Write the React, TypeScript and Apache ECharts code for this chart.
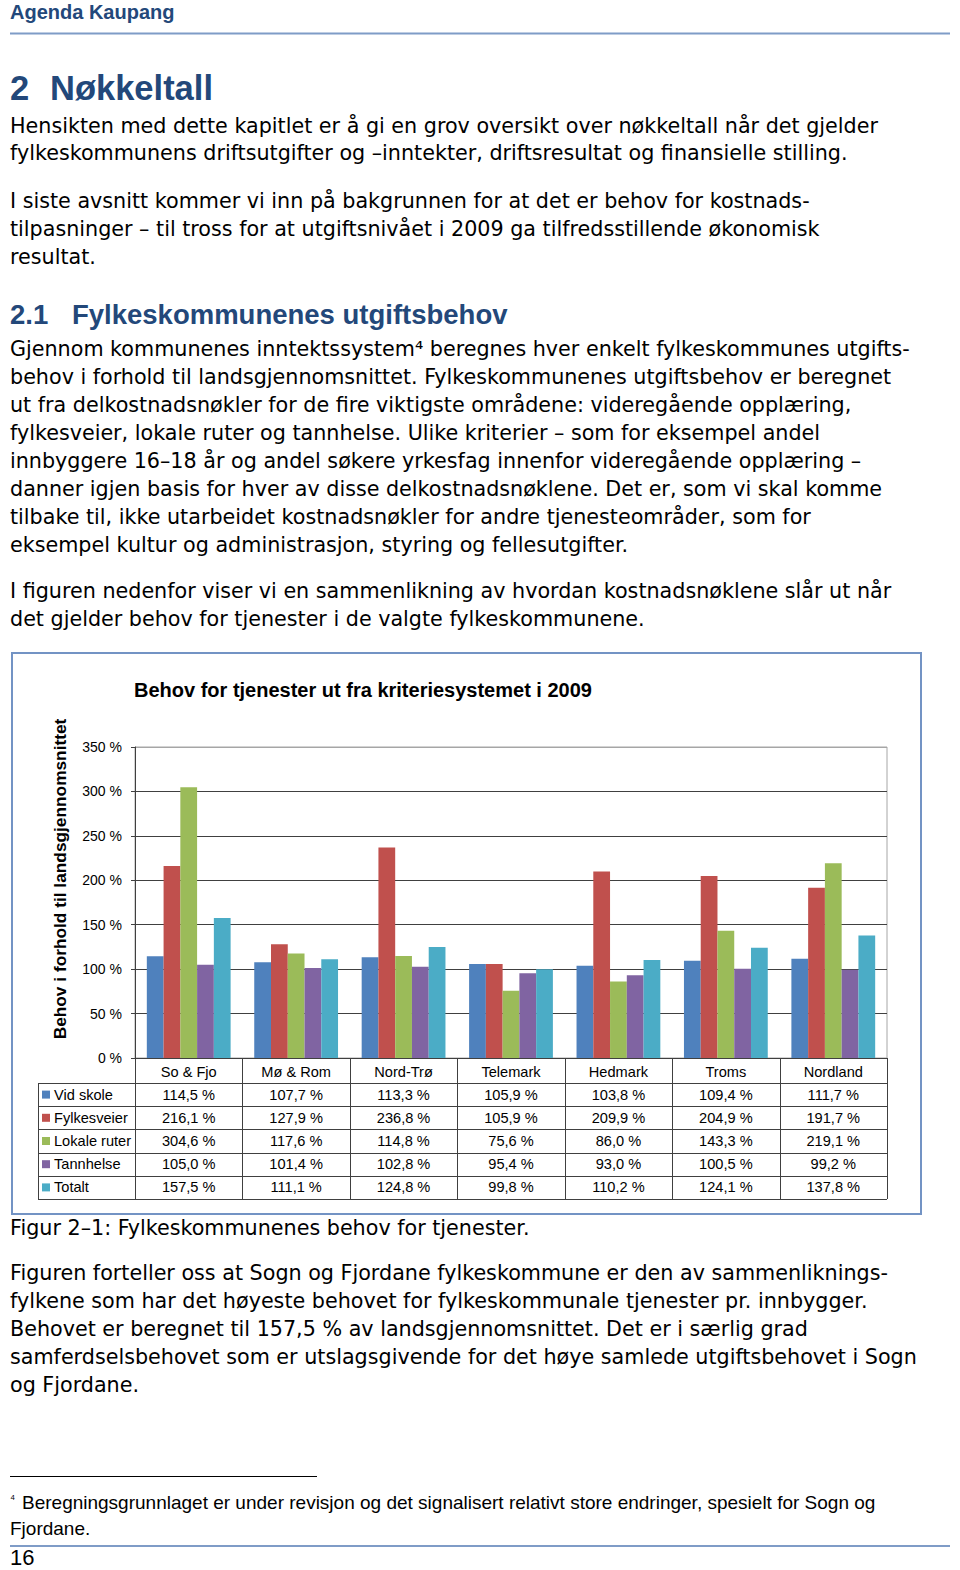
import React, { useEffect, useRef } from "react";
import * as echarts from "echarts";

const categories = ["So & Fjo", "Mø & Rom", "Nord-Trø", "Telemark", "Hedmark", "Troms", "Nordland"];
const seriesNames = ["Vid skole", "Fylkesveier", "Lokale ruter", "Tannhelse", "Totalt"];
const vidSkole = [114.5, 107.7, 113.3, 105.9, 103.8, 109.4, 111.7];
const fylkesveier = [216.1, 127.9, 236.8, 105.9, 209.9, 204.9, 191.7];
const lokaleRuter = [304.6, 117.6, 114.8, 75.6, 86.0, 143.3, 219.1];
const tannhelse = [105.0, 101.4, 102.8, 95.4, 93.0, 100.5, 99.2];
const totalt = [157.5, 111.1, 124.8, 99.8, 110.2, 124.1, 137.8];
const seriesValues = [vidSkole, fylkesveier, lokaleRuter, tannhelse, totalt];
const colors = ["#4F81BD", "#C0504D", "#9BBB59", "#8064A2", "#4BACC6"];
const yMin = 0;
const yMax = 350;
const yInterval = 50;

const chartTitle = "Behov for tjenester ut fra kriteriesystemet i 2009";
const yTitle = "Behov i forhold til landsgjennomsnittet";

const bodyLines: [string, number][] = [
  ["Hensikten med dette kapitlet er å gi en grov oversikt over nøkkeltall når det gjelder", 126],
  ["fylkeskommunens driftsutgifter og –inntekter, driftsresultat og finansielle stilling.", 153],
  ["I siste avsnitt kommer vi inn på bakgrunnen for at det er behov for kostnads-", 201],
  ["tilpasninger – til tross for at utgiftsnivået i 2009 ga tilfredsstillende økonomisk", 229],
  ["resultat.", 257],
  ["Gjennom kommunenes inntektssystem⁴ beregnes hver enkelt fylkeskommunes utgifts-", 349],
  ["behov i forhold til landsgjennomsnittet. Fylkeskommunenes utgiftsbehov er beregnet", 377],
  ["ut fra delkostnadsnøkler for de fire viktigste områdene: videregående opplæring,", 405],
  ["fylkesveier, lokale ruter og tannhelse. Ulike kriterier – som for eksempel andel", 433],
  ["innbyggere 16–18 år og andel søkere yrkesfag innenfor videregående opplæring –", 461],
  ["danner igjen basis for hver av disse delkostnadsnøklene. Det er, som vi skal komme", 489],
  ["tilbake til, ikke utarbeidet kostnadsnøkler for andre tjenesteområder, som for", 517],
  ["eksempel kultur og administrasjon, styring og fellesutgifter.", 545],
  ["I figuren nedenfor viser vi en sammenlikning av hvordan kostnadsnøklene slår ut når", 591],
  ["det gjelder behov for tjenester i de valgte fylkeskommunene.", 619],
  ["Figur 2–1: Fylkeskommunenes behov for tjenester.", 1228],
  ["Figuren forteller oss at Sogn og Fjordane fylkeskommune er den av sammenliknings-", 1273],
  ["fylkene som har det høyeste behovet for fylkeskommunale tjenester pr. innbygger.", 1301],
  ["Behovet er beregnet til 157,5 % av landsgjennomsnittet. Det er i særlig grad", 1329],
  ["samferdselsbehovet som er utslagsgivende for det høye samlede utgiftsbehovet i Sogn", 1357],
  ["og Fjordane.", 1385],
];

const footLines: [string, number, number][] = [
  ["⁴", 10, 1502],
  ["Beregningsgrunnlaget er under revisjon og det signalisert relativt store endringer, spesielt for Sogn og", 22, 1502],
  ["Fjordane.", 10, 1528],
];

const BLUE = "#23487A";
const BODY_FONT = "20.7px 'DejaVu Sans'";
const ARIAL = "'Liberation Sans', Arial";
const NARROW = "'Liberation Sans Narrow', 'Liberation Sans'";

const fmt = (v: number) => v.toFixed(1).replace(".", ",") + " %";

function txt(text: string, x: number, y: number, font: string, fill = "#000", align = "left", extra: any = {}) {
  return {
    type: "text",
    x,
    y,
    silent: true,
    ...extra,
    style: {
      text,
      font,
      fill,
      align,
      verticalAlign: "middle",
      textAlign: align,
      textVerticalAlign: "middle",
    },
  };
}

function line(x1: number, y1: number, x2: number, y2: number, stroke: string, lineWidth = 1) {
  return { type: "line", silent: true, shape: { x1, y1, x2, y2 }, style: { stroke, lineWidth } };
}

export default function App() {
  const ref = useRef<HTMLDivElement>(null);
  useEffect(() => {
    document.body.style.margin = "0";
    const chart = echarts.init(ref.current!, undefined, { renderer: "svg" });
    const splitColors = ["#404040", "#404040", "#404040", "#404040", "#404040", "#404040", "#404040", "#A6A6A6"];
    chart.setOption({
      animation: false,
      backgroundColor: "#fff",
      title: {
        text: chartTitle,
        left: 129,
        top: 675,
        textStyle: { fontFamily: ARIAL, fontSize: 20, fontWeight: "bold", color: "#000" },
      },
      grid: { left: 135, top: 747, width: 752, height: 311, show: true, borderColor: "#A6A6A6", borderWidth: 1 },
      xAxis: {
        type: "category",
        data: categories,
        axisLine: { show: true, lineStyle: { color: "#404040", width: 1 } },
        axisTick: { show: false },
        axisLabel: { interval: 0, margin: 6, color: "#000", fontFamily: ARIAL, fontSize: 14.6 },
      },
      yAxis: {
        type: "value",
        min: yMin,
        max: yMax,
        interval: yInterval,
        axisLine: { show: true, lineStyle: { color: "#404040", width: 1 } },
        axisTick: { show: true, length: 4, lineStyle: { color: "#404040" } },
        axisLabel: { margin: 13, color: "#000", fontFamily: ARIAL, fontSize: 14, formatter: (v: number) => v + " %" },
        splitLine: { show: true, lineStyle: { color: splitColors, width: 1 } },
      },
      series: seriesNames.map((name, i) => ({
        name,
        type: "bar",
        data: seriesValues[i],
        barGap: "0%",
        barCategoryGap: "22%",
        itemStyle: { color: colors[i] },
      })),
    });

    const cx = categories.map((_, i) => chart.convertToPixel({ xAxisIndex: 0 }, i) as number);
    const colW = cx[1] - cx[0];
    const tableLeft = cx[0] - colW / 2;
    const tableRight = cx[cx.length - 1] + colW / 2;
    const axisY = chart.convertToPixel({ yAxisIndex: 0 }, 0) as number;
    const headerH = 25;
    const rowH = 23.2;
    const legendLeft = 38;
    const rowTop = (r: number) => axisY + headerH + r * rowH;
    const tableBottom = rowTop(seriesNames.length);
    const LC = "#404040";

    const g: any[] = [];
    g.push(txt("Agenda Kaupang", 10, 12, `bold 20px ${ARIAL}`, BLUE));
    g.push(line(10, 33.5, 950, 33.5, "#7F9CC7", 2));
    g.push(txt("2", 10, 88, `bold 34.5px ${ARIAL}`, BLUE));
    g.push(txt("Nøkkeltall", 50, 88, `bold 34.5px ${ARIAL}`, BLUE));
    g.push(txt("2.1", 10, 314, `bold 27.5px ${ARIAL}`, BLUE));
    g.push(txt("Fylkeskommunenes utgiftsbehov", 72, 314, `bold 27.5px ${ARIAL}`, BLUE));
    bodyLines.forEach(([t, y]) => g.push(txt(t, 10, y, BODY_FONT, "#000")));
    g.push(line(10, 1476.5, 317, 1476.5, "#000", 1));
    g.push(txt(footLines[0][0], footLines[0][1], footLines[0][2] - 3, `12px ${NARROW}`, "#000"));
    g.push(txt(footLines[1][0], footLines[1][1], footLines[1][2], `19px ${NARROW}`, "#000"));
    g.push(txt(footLines[2][0], footLines[2][1], footLines[2][2], `19px ${NARROW}`, "#000"));
    g.push(line(10, 1546, 950, 1546, "#7F9CC7", 2));
    g.push(txt("16", 10, 1557, `22px ${NARROW}`, "#000"));
    g.push({ type: "rect", silent: true, shape: { x: 12, y: 653, width: 909, height: 561 }, style: { fill: "none", stroke: "#7393C4", lineWidth: 2 } });
    g.push(txt(yTitle, 60, 879, `bold 17.3px ${ARIAL}`, "#000", "center", { rotation: Math.PI / 2 }));
    for (let k = 0; k <= categories.length; k++) {
      const x = Math.round(tableLeft + k * colW) + 0.5;
      g.push(line(x, axisY, x, tableBottom, LC, 1));
    }
    g.push(line(legendLeft + 0.5, rowTop(0), legendLeft + 0.5, tableBottom, LC, 1));
    for (let r = 0; r <= seriesNames.length; r++) {
      const y = Math.round(rowTop(r)) + 0.5;
      g.push(line(legendLeft, y, tableRight, y, LC, 1));
    }
    seriesNames.forEach((name, r) => {
      const cy = rowTop(r) + rowH / 2;
      g.push({ type: "rect", silent: true, shape: { x: 42, y: cy - 4, width: 8, height: 8 }, style: { fill: colors[r] } });
      g.push(txt(name, 54, cy, `14.6px ${ARIAL}`, "#000"));
      seriesValues[r].forEach((v, c) => {
        g.push(txt(fmt(v), cx[c], cy, `14.6px ${ARIAL}`, "#000", "center"));
      });
    });
    chart.setOption({ graphic: g });
    return () => chart.dispose();
  }, []);
  return <div ref={ref} style={{ position: "absolute", left: 0, top: 0, width: 960, height: 1570 }} />;
}
